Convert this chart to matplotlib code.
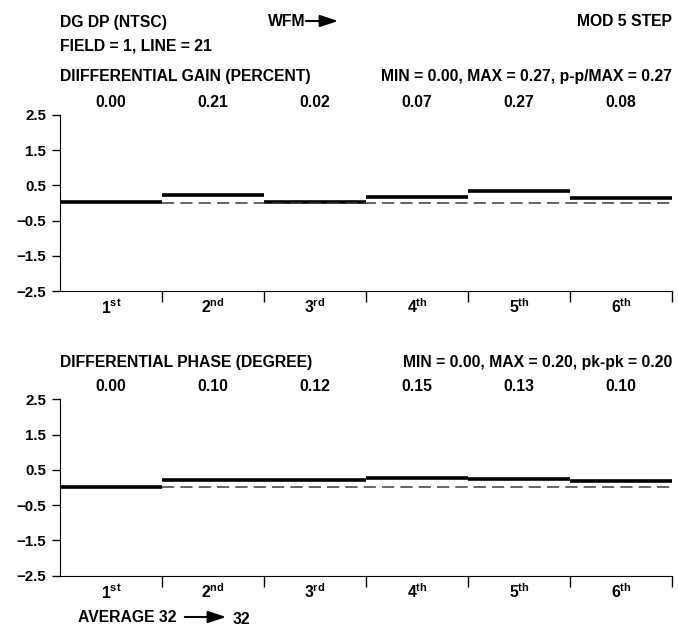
import numpy as np
import matplotlib
matplotlib.use('Agg')
import matplotlib.pyplot as plt

plt.rcParams['font.family'] = 'Liberation Sans'
plt.rcParams['font.weight'] = 'bold'
plt.rcParams['mathtext.fontset'] = 'custom'
plt.rcParams['mathtext.rm'] = 'Liberation Sans:bold'
plt.rcParams['mathtext.bf'] = 'Liberation Sans:bold'

# data
steps = ['1', '2', '3', '4', '5', '6']
suffixes = ['st', 'nd', 'rd', 'th', 'th', 'th']
dg_labels = ['0.00', '0.21', '0.02', '0.07', '0.27', '0.08']
dg_levels = [0.02, 0.21, 0.02, 0.16, 0.34, 0.13]
dp_labels = ['0.00', '0.10', '0.12', '0.15', '0.13', '0.10']
dp_levels = [0.02, 0.22, 0.22, 0.27, 0.24, 0.19]
yticks = [2.5, 1.5, 0.5, -0.5, -1.5, -2.5]

FS = 11.3    # header / label text
TFS = 10.8   # y tick labels
fig = plt.figure(figsize=(6.78, 6.26), dpi=100)

ax1 = fig.add_axes([0.0885, 0.5351, 0.9027, 0.2816])
ax2 = fig.add_axes([0.0885, 0.0804, 0.9027, 0.2818])


def panel(ax, levels, labels):
    x0 = np.arange(len(levels))
    ax.hlines(levels, x0, x0 + 1, colors='black', lw=2.6)
    ax.hlines(0, 1, len(levels), colors='#3a3a3a', lw=1.1,
              linestyles=(0, (8, 4)))
    ax.set_xlim(0, len(levels))
    ax.set_ylim(-2.5, 2.5)
    ax.spines['top'].set_visible(False)
    ax.spines['right'].set_visible(False)
    ax.set_yticks(yticks)
    ax.set_yticklabels([str(t).replace('-', '\u2212') for t in yticks],
                       fontsize=TFS, fontweight='bold')
    ax.tick_params(axis='y', length=6, width=1, pad=4)
    ax.set_xticks(np.arange(1, len(levels) + 1))
    ax.set_xticklabels([])
    ax.tick_params(axis='x', length=8, width=1)
    tr = ax.get_xaxis_transform()
    for i in range(len(levels)):
        ax.text(i + 0.5, 1.07, labels[i], transform=tr, ha='center',
                va='center', fontsize=FS, fontweight='bold')
        ax.text(i + 0.5, -0.09, r'$\mathbf{%s}^{\mathbf{%s}}$'
                % (steps[i], suffixes[i]), transform=tr, ha='center',
                va='center', fontsize=FS)


panel(ax1, dg_levels, dg_labels)
panel(ax2, dp_levels, dp_labels)


def ftext(x, y, s, ha='left'):
    fig.text(x / 678, 1 - y / 626, s, ha=ha, va='center',
             fontsize=FS, fontweight='bold')


def farrow(x0, x1, y):
    fig.add_artist(matplotlib.patches.FancyArrowPatch(
        (x0 / 678, 1 - y / 626), (x1 / 678, 1 - y / 626),
        transform=fig.transFigure,
        arrowstyle='-|>,head_length=1.1,head_width=0.36',
        color='black', lw=1.5, mutation_scale=10))


ftext(60, 22, 'DG DP (NTSC)')
ftext(268, 22, 'WFM')
farrow(303, 341, 21)
ftext(672, 22, 'MOD 5 STEP', ha='right')
ftext(60, 46, 'FIELD = 1, LINE = 21')
ftext(60, 76, 'DIIFFERENTIAL GAIN (PERCENT)')
ftext(672, 76, 'MIN = 0.00, MAX = 0.27, p-p/MAX = 0.27', ha='right')
ftext(60, 363, 'DIFFERENTIAL PHASE (DEGREE)')
ftext(672, 363, 'MIN = 0.00, MAX = 0.20, pk-pk = 0.20', ha='right')
ftext(78, 618, 'AVERAGE 32')
farrow(182, 229, 617)
ftext(233, 619, '32')

fig.savefig('out.png', dpi=100)
